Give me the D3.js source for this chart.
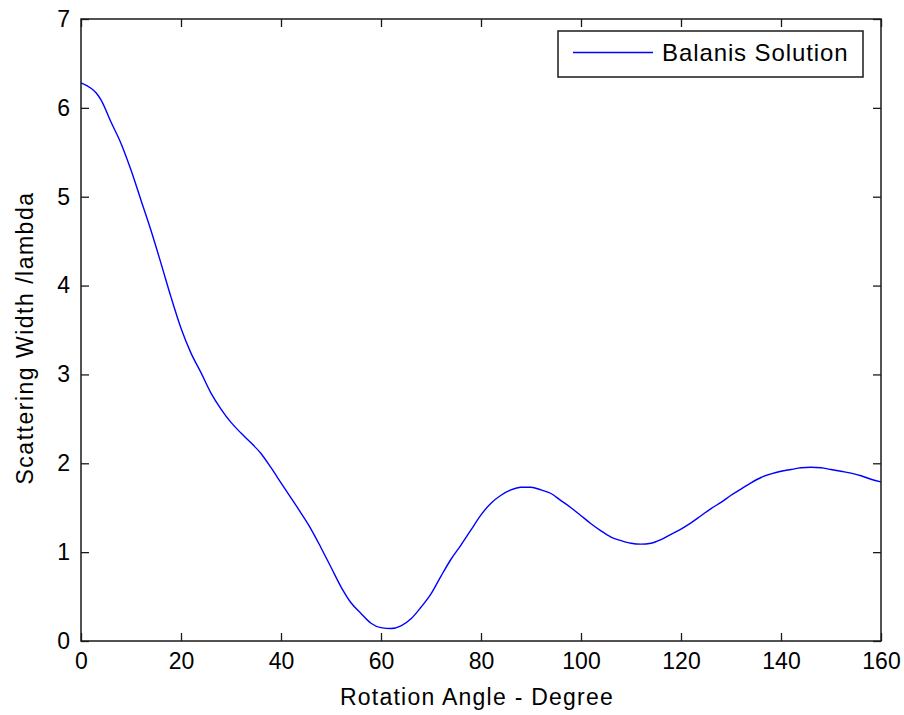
<!DOCTYPE html>
<html>
<head>
<meta charset="utf-8">
<script src="https://cdn.jsdelivr.net/npm/d3@7"></script>
<style>
  html, body { margin: 0; padding: 0; background: #fff; }
  svg { display: block; }
  text { font-family: Arial, "Liberation Sans", sans-serif; fill: #000; }
</style>
</head>
<body>
<svg id="chart" width="904" height="715"></svg>
<script>
// Rotation angle (degrees)
const angles = [0, 2, 3, 4, 6, 8, 10, 12, 14, 16, 18, 20, 22, 24, 26, 28, 30, 32, 34, 36, 38,
  40, 42, 44, 46, 48, 50, 52, 54, 56, 58, 60, 62, 64, 66, 68, 70, 72, 74, 76, 78,
  80, 82, 84, 86, 88, 90, 92, 94, 96, 98, 100, 102, 104, 106, 108, 110, 112, 114, 116, 118,
  120, 122, 124, 126, 128, 130, 132, 134, 136, 138, 140, 142, 144, 146, 148, 150, 152, 154, 156, 158, 160];
// Scattering width normalised by wavelength
const widths = [6.28, 6.22, 6.17, 6.09, 5.84, 5.60, 5.30, 4.96, 4.62, 4.25, 3.87, 3.52, 3.24, 3.02, 2.79, 2.61, 2.46, 2.34, 2.23, 2.11, 1.95,
  1.78, 1.61, 1.44, 1.26, 1.05, 0.83, 0.61, 0.43, 0.31, 0.20, 0.15, 0.14, 0.17, 0.25, 0.38, 0.53, 0.73, 0.92, 1.08, 1.25,
  1.42, 1.55, 1.64, 1.70, 1.73, 1.73, 1.70, 1.66, 1.58, 1.50, 1.41, 1.32, 1.24, 1.17, 1.13, 1.10, 1.09, 1.10, 1.14, 1.20,
  1.26, 1.33, 1.41, 1.49, 1.56, 1.64, 1.71, 1.78, 1.84, 1.88, 1.91, 1.93, 1.95, 1.955, 1.95, 1.93, 1.91, 1.89, 1.86, 1.82, 1.79];
const xTicks = [0, 20, 40, 60, 80, 100, 120, 140, 160];
const yTicks = [0, 1, 2, 3, 4, 5, 6, 7];
const seriesName = "Balanis Solution";

const svg = d3.select("#chart");
const margin = { left: 81, top: 19, right: 23, bottom: 74 };
const W = 904, H = 715;
const x = d3.scaleLinear().domain([0, 160]).range([margin.left, W - margin.right]);
const y = d3.scaleLinear().domain([0, 7]).range([H - margin.bottom, margin.top]);

const tickLen = 8;
const axisColor = "#1a1a1a";

// Curve
const line = d3.line().x((d, i) => x(angles[i])).y(d => y(d)).curve(d3.curveMonotoneX);
svg.append("path")
  .datum(widths)
  .attr("d", line)
  .attr("fill", "none")
  .attr("stroke", "#0000ff")
  .attr("stroke-width", 1.4);

// Axes: bottom/left with labels, top/right mirrored ticks only
function styleAxis(g) {
  g.select(".domain").remove();
  g.selectAll(".tick line").attr("stroke", axisColor).attr("stroke-width", 1.3);
  g.selectAll(".tick text").style("font-size", "23px").attr("fill", "#000");
}
svg.append("g")
  .attr("transform", `translate(0,${y(0)})`)
  .call(d3.axisBottom(x).tickValues(xTicks).tickFormat(d3.format("d")).tickSizeInner(-tickLen).tickSizeOuter(0).tickPadding(12))
  .call(styleAxis);
svg.append("g")
  .attr("transform", `translate(0,${y(7)})`)
  .call(d3.axisTop(x).tickValues(xTicks).tickFormat("").tickSizeInner(-tickLen).tickSizeOuter(0))
  .call(styleAxis);
svg.append("g")
  .attr("transform", `translate(${x(0)},0)`)
  .call(d3.axisLeft(y).tickValues(yTicks).tickFormat(d3.format("d")).tickSizeInner(-tickLen).tickSizeOuter(0).tickPadding(11))
  .call(styleAxis);
svg.append("g")
  .attr("transform", `translate(${x(160)},0)`)
  .call(d3.axisRight(y).tickValues(yTicks).tickFormat("").tickSizeInner(-tickLen).tickSizeOuter(0))
  .call(styleAxis);

// Frame
svg.append("rect")
  .attr("x", x(0)).attr("y", y(7))
  .attr("width", x(160) - x(0)).attr("height", y(0) - y(7))
  .attr("fill", "none").attr("stroke", axisColor).attr("stroke-width", 1.5);

// Axis titles
svg.append("text")
  .attr("x", (x(0) + x(160)) / 2 - 4).attr("y", 705)
  .attr("text-anchor", "middle")
  .style("font-size", "23px")
  .style("letter-spacing", "1.25px")
  .text("Rotation Angle - Degree");
svg.append("text")
  .attr("transform", `translate(33,${(y(0) + y(7)) / 2 + 8}) rotate(-90)`)
  .attr("text-anchor", "middle")
  .style("font-size", "23px")
  .style("letter-spacing", "1.5px")
  .text("Scattering Width /lambda");

// Legend
const lg = svg.append("g");
lg.append("rect")
  .attr("x", 558).attr("y", 31).attr("width", 305).attr("height", 46)
  .attr("fill", "#fff").attr("stroke", axisColor).attr("stroke-width", 1.5);
lg.append("line")
  .attr("x1", 573).attr("x2", 653).attr("y1", 52.5).attr("y2", 52.5)
  .attr("stroke", "#0000ff").attr("stroke-width", 1.4);
lg.append("text")
  .attr("x", 662).attr("y", 61)
  .style("font-size", "24px")
  .style("letter-spacing", "0.9px")
  .text(seriesName);
</script>
</body>
</html>
